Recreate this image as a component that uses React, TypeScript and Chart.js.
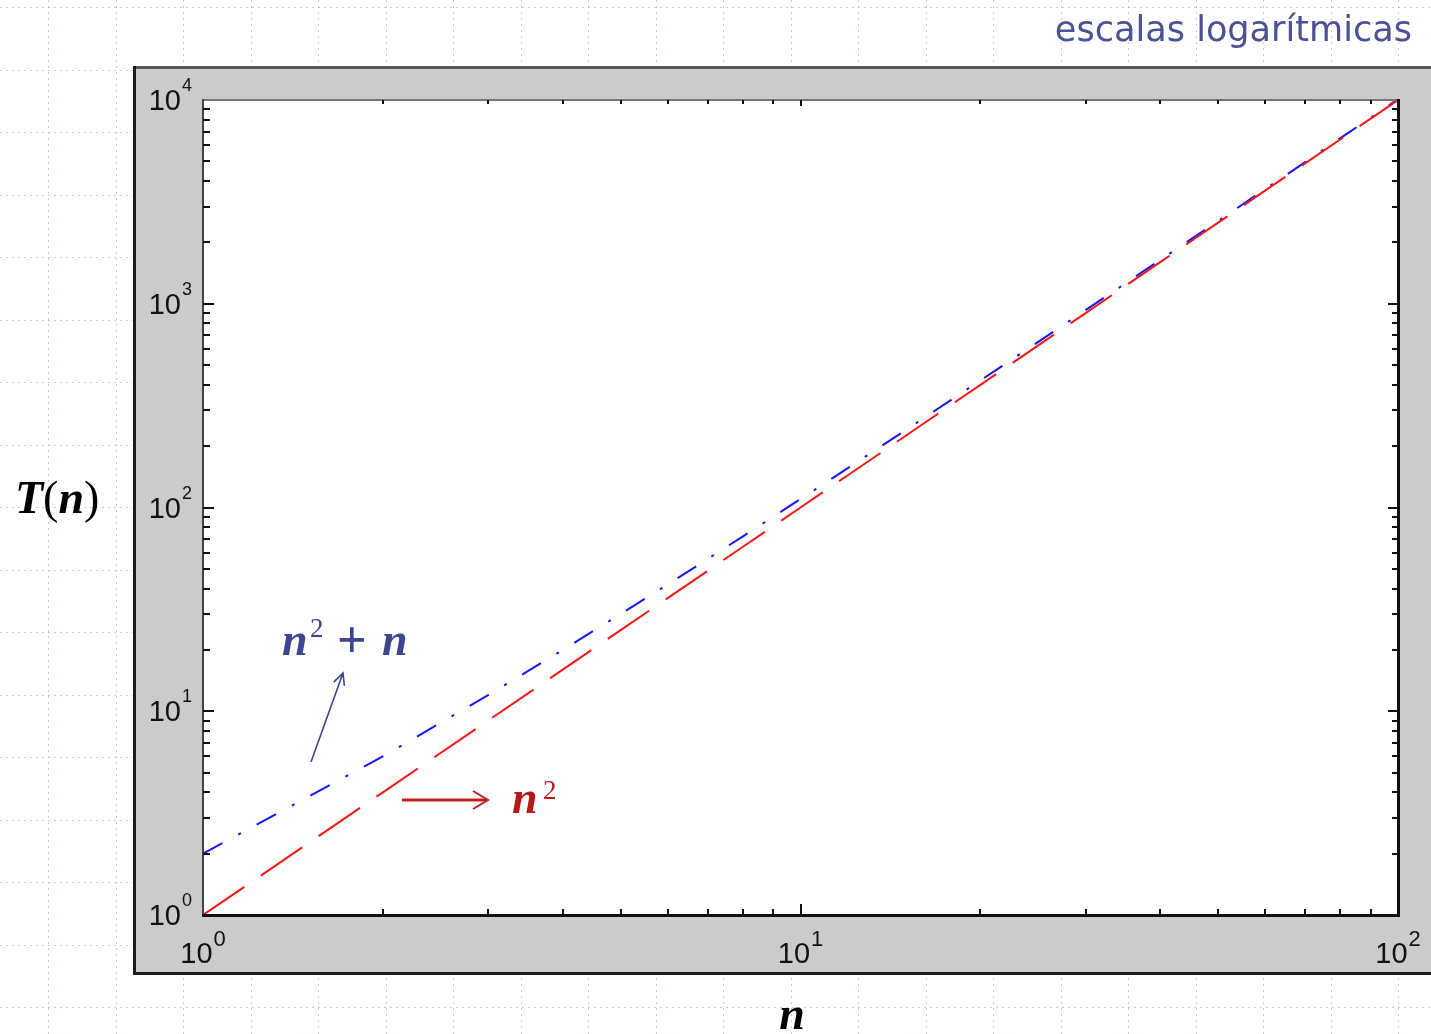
import React, { useEffect, useRef } from "react";
import { Chart, registerables } from "chart.js";

Chart.register(...registerables);

// ---- data ----
const nValues = [1, 2, 3, 4, 5, 6, 7, 8, 9, 10, 12, 15, 20, 25, 30, 40, 50, 60, 70, 80, 90, 100];
const nSquared = [1, 4, 9, 16, 25, 36, 49, 64, 81, 100, 144, 225, 400, 625, 900, 1600, 2500, 3600, 4900, 6400, 8100, 10000];
const nSquaredPlusN = [2, 6, 12, 20, 30, 42, 56, 72, 90, 110, 156, 240, 420, 650, 930, 1640, 2550, 3660, 4970, 6480, 8190, 10100];

const xTickValues = [1, 10, 100];
const xTickExponents = ["0", "1", "2"];
const yTickValues = [1, 10, 100, 1000, 10000];
const yTickExponents = ["0", "1", "2", "3", "4"];
const minorMultipliers = [2, 3, 4, 5, 6, 7, 8, 9];

const titleText = "escalas logarítmicas";
const seriesLabels = ["n²", "n² + n"];

const W = 1431;
const H = 1034;

const SERIF = '"Liberation Serif", "DejaVu Serif", serif';
const SANS = '"Liberation Sans", Arial, sans-serif';

function majorMinor(values: number[]) {
  const out: { v: number; major: boolean }[] = [];
  for (let i = 0; i < values.length; i++) {
    out.push({ v: values[i], major: true });
    if (i < values.length - 1) {
      for (const m of minorMultipliers) out.push({ v: values[i] * m, major: false });
    }
  }
  return out;
}

const decorPlugin = {
  id: "decor",
  beforeDraw(chart: any) {
    const ctx = chart.ctx as CanvasRenderingContext2D;
    const { left, top, right, bottom } = chart.chartArea;
    ctx.save();
    ctx.fillStyle = "#ffffff";
    ctx.fillRect(0, 0, W, H);

    // slide background dotted grid
    ctx.strokeStyle = "rgba(170,190,240,0.75)";
    ctx.lineWidth = 1;
    ctx.setLineDash([2, 4]);
    for (let x = 48 - 67.5; x < W; x += 67.5) {
      ctx.beginPath();
      ctx.moveTo(Math.round(x) + 0.5, 0);
      ctx.lineTo(Math.round(x) + 0.5, H);
      ctx.stroke();
    }
    for (let y = 7; y < H; y += 62.5) {
      ctx.beginPath();
      ctx.moveTo(0, Math.round(y) + 0.5);
      ctx.lineTo(W, Math.round(y) + 0.5);
      ctx.stroke();
    }
    ctx.setLineDash([]);

    // gray frame
    const fL = left - 70, fT = top - 34, fB = bottom + 60, fR = W;
    ctx.fillStyle = "#cbcbcb";
    ctx.fillRect(fL, fT, fR - fL, fB - fT);
    ctx.fillStyle = "#5a5a5a";
    ctx.fillRect(fL, fT, fR - fL, 3);
    ctx.fillStyle = "#1c1c1c";
    ctx.fillRect(fL, fT, 3, fB - fT);
    ctx.fillRect(fL, fB - 3, fR - fL, 3);

    // white plot area
    ctx.fillStyle = "#ffffff";
    ctx.fillRect(left, top, right - left, bottom - top);

    // title
    ctx.fillStyle = "#4b5193";
    ctx.textAlign = "right";
    ctx.textBaseline = "alphabetic";
    ctx.font = '32px "DejaVu Sans", sans-serif';
    const tw = ctx.measureText(titleText).width;
    const fs = 32 * (357 / tw);
    ctx.font = `${fs.toFixed(1)}px "DejaVu Sans", sans-serif`;
    ctx.fillText(titleText, 1412, 41);
    ctx.restore();
  },
  afterDatasetsDraw(chart: any) {
    const ctx = chart.ctx as CanvasRenderingContext2D;
    const { left, top, right, bottom } = chart.chartArea;
    const xs = chart.scales.x;
    const ys = chart.scales.y;
    ctx.save();

    // plot box borders
    ctx.fillStyle = "#777";
    ctx.fillRect(left - 1, top - 1, right - left + 2, 2);
    ctx.fillStyle = "#444";
    ctx.fillRect(left - 1, top - 1, 2, bottom - top + 2);
    ctx.fillStyle = "#111";
    ctx.fillRect(right - 1, top - 1, 3, bottom - top + 3);
    ctx.fillRect(left - 1, bottom - 1, right - left + 3, 3);

    // ticks
    ctx.fillStyle = "#111";
    for (const t of majorMinor(xTickValues)) {
      const px = Math.round(xs.getPixelForValue(t.v));
      if (px <= left + 1 || px >= right - 1) continue;
      const lb = t.major ? 11 : 6;
      ctx.fillRect(px - 1, bottom - lb, 2, lb);
      ctx.fillRect(px - 1, top, 2, t.major ? 6 : 4);
    }
    for (const t of majorMinor(yTickValues)) {
      const py = Math.round(ys.getPixelForValue(t.v));
      if (py <= top + 1 || py >= bottom - 1) continue;
      const ll = t.major ? 11 : 7;
      ctx.fillRect(left, py - 1, ll, 2);
      ctx.fillRect(right - ll + 1, py - 1, ll, 2);
    }

    // y tick labels
    ctx.fillStyle = "#111";
    ctx.textBaseline = "alphabetic";
    yTickValues.forEach((v, i) => {
      const py = ys.getPixelForValue(v);
      ctx.font = `18px ${SANS}`;
      ctx.textAlign = "right";
      const ew = ctx.measureText(yTickExponents[i]).width;
      ctx.fillText(yTickExponents[i], 192, py - 9);
      ctx.font = `29px ${SANS}`;
      ctx.fillText("10", 192 - ew - 1, py + 10);
    });

    // x tick labels
    xTickValues.forEach((v, i) => {
      const px = xs.getPixelForValue(v);
      ctx.font = `29px ${SANS}`;
      const bw = ctx.measureText("10").width;
      ctx.font = `22px ${SANS}`;
      const ew = ctx.measureText(xTickExponents[i]).width;
      const start = px - (bw + 1 + ew) / 2;
      ctx.textAlign = "left";
      ctx.font = `29px ${SANS}`;
      ctx.fillText("10", start, 963);
      ctx.font = `22px ${SANS}`;
      ctx.fillText(xTickExponents[i], start + bw + 1, 946);
    });

    // axis titles
    ctx.fillStyle = "#000";
    ctx.textAlign = "left";
    let x = 15;
    const yT = 513;
    const parts: [string, string][] = [
      ["T", `bold italic 46px ${SERIF}`],
      ["(", `46px ${SERIF}`],
      ["n", `bold italic 46px ${SERIF}`],
      [")", `46px ${SERIF}`],
    ];
    for (const [s, f] of parts) {
      ctx.font = f;
      ctx.fillText(s, x, yT);
      x += ctx.measureText(s).width;
    }
    ctx.font = `bold italic 46px ${SERIF}`;
    ctx.textAlign = "center";
    ctx.fillText("n", 792, 1029);

    // annotation: n^2 + n (blue)
    const blueTxt = "#3b4592";
    ctx.fillStyle = blueTxt;
    ctx.textAlign = "left";
    ctx.font = `bold italic 46px ${SERIF}`;
    ctx.fillText("n", 282, 655);
    ctx.font = `27px ${SERIF}`;
    ctx.fillText("2", 310, 637);
    ctx.font = `bold 52px ${SERIF}`;
    ctx.fillText("+", 337, 657);
    ctx.font = `bold italic 46px ${SERIF}`;
    ctx.fillText("n", 382, 655);

    // blue arrow
    ctx.strokeStyle = blueTxt;
    ctx.lineWidth = 1.6;
    const ax0 = 311, ay0 = 762, ax1 = 343, ay1 = 673;
    ctx.beginPath();
    ctx.moveTo(ax0, ay0);
    ctx.lineTo(ax1, ay1);
    const ang = Math.atan2(ay1 - ay0, ax1 - ax0);
    const hl = 13;
    ctx.moveTo(ax1 - hl * Math.cos(ang - 0.45), ay1 - hl * Math.sin(ang - 0.45));
    ctx.lineTo(ax1, ay1);
    ctx.lineTo(ax1 - hl * Math.cos(ang + 0.45), ay1 - hl * Math.sin(ang + 0.45));
    ctx.stroke();

    // annotation: n^2 (red)
    const redTxt = "#b41a1a";
    ctx.fillStyle = redTxt;
    ctx.font = `bold italic 46px ${SERIF}`;
    ctx.fillText("n", 512, 813);
    ctx.font = `27px ${SERIF}`;
    ctx.fillText("2", 543, 799);

    // red arrow
    ctx.strokeStyle = "#c0201f";
    ctx.lineWidth = 3;
    ctx.beginPath();
    ctx.moveTo(402, 800);
    ctx.lineTo(487, 800);
    ctx.stroke();
    ctx.lineWidth = 2;
    ctx.beginPath();
    ctx.moveTo(473, 791);
    ctx.lineTo(488, 800);
    ctx.lineTo(473, 809);
    ctx.stroke();

    ctx.restore();
  },
};

export default function App() {
  const ref = useRef<HTMLCanvasElement | null>(null);
  useEffect(() => {
    document.body.style.margin = "0";
    if (!ref.current) return;
    const chart = new Chart(ref.current, {
      type: "line",
      data: {
        datasets: [
          {
            label: seriesLabels[0],
            data: nValues.map((n, i) => ({ x: n, y: nSquared[i] })),
            borderColor: "#ff1414",
            borderWidth: 2,
            borderDash: [50, 20],
            pointRadius: 0,
            fill: false,
          },
          {
            label: seriesLabels[1],
            data: nValues.map((n, i) => ({ x: n, y: nSquaredPlusN[i] })),
            borderColor: "#1414ff",
            borderWidth: 2,
            borderDash: [22, 18, 3, 18],
            pointRadius: 0,
            fill: false,
          },
        ],
      },
      options: {
        animation: false,
        responsive: false,
        events: [],
        layout: { padding: { left: 203, right: 33, top: 100, bottom: 119 } },
        scales: {
          x: { type: "logarithmic", min: 1, max: 100, display: false },
          y: { type: "logarithmic", min: 1, max: 10000, display: false },
        },
        plugins: {
          legend: { display: false },
          tooltip: { enabled: false },
        },
      },
      plugins: [decorPlugin],
    } as any);
    return () => chart.destroy();
  }, []);
  return (
    <div style={{ position: "absolute", left: 0, top: 0, width: W, height: H }}>
      <canvas ref={ref} width={W} height={H} style={{ display: "block" }} />
    </div>
  );
}
